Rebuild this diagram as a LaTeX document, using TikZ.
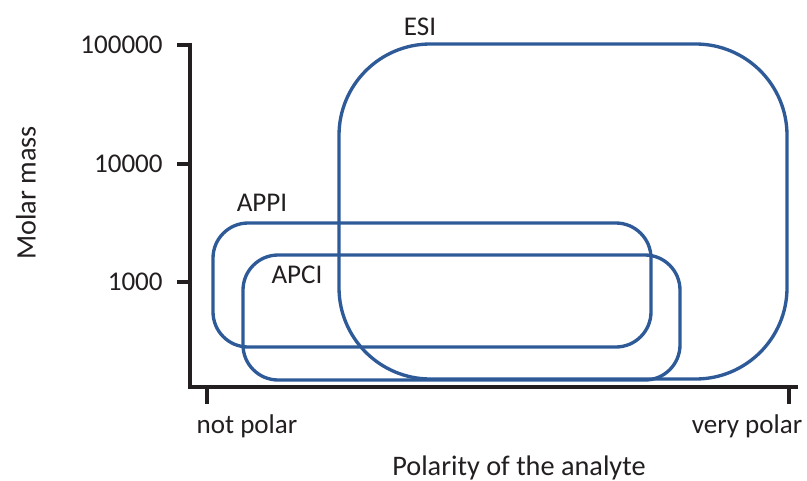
\documentclass[tikz,border=0pt]{standalone}
\usepackage{fontspec}
\setmainfont{Carlito}
\definecolor{ionblue}{RGB}{46,90,152}
\definecolor{inkgray}{RGB}{35,31,32}
\tikzset{
  region/.style={ionblue, line width=1.9pt, rounded corners=#1},
  region/.default=20,
  axisline/.style={inkgray, line width=2.3pt},
  lbl/.style={font=\fontsize{15.4}{18}\selectfont, text=inkgray, inner sep=0pt},
  title/.style={font=\fontsize{16.1}{19}\selectfont, text=inkgray, inner sep=0pt},
}

\begin{document}
\begin{tikzpicture}[x=0.02cm, y=-0.02cm]
        \useasboundingbox (0,0) rectangle (807,480);

        % Ionisation ranges
        \draw[region=52] (339,44) rectangle (787,379); % ESI
        \draw[region] (213,223) rectangle (651,347); % APPI
        \draw[region] (243,255) rectangle (680,380); % APCI
        \node[lbl] (esi) at (420,27) {ESI};
        \node[lbl] (appi) at (262,203) {APPI};
        \node[lbl] (apci) at (297,275) {APCI};

        % Axes
        \draw[axisline] (190,43) -- (190,387) -- (798,387);
        \foreach \y in {45,164,282}
            \draw[axisline] (177,\y) -- (190,\y); % Y ticks
        \foreach \x in {207,789}
            \draw[axisline] (\x,387) -- (\x,404); % X ticks

        % Tick labels
        \node[lbl, anchor=east] (m5) at (163,45) {100000};
        \node[lbl, anchor=east] (m4) at (163,164) {10000};
        \node[lbl, anchor=east] (m3) at (163,282) {1000};
        \node[lbl, anchor=base] (low) at (247,433) {not polar};
        \node[lbl, anchor=base] (high) at (747,433) {very polar};

        % Axis titles
        \node[title, anchor=base] (xtitle) at (519,475) {Polarity of the analyte};
        \node[title, rotate=90] (ytitle) at (26,193) {Molar mass};
    \end{tikzpicture}
\end{document}
